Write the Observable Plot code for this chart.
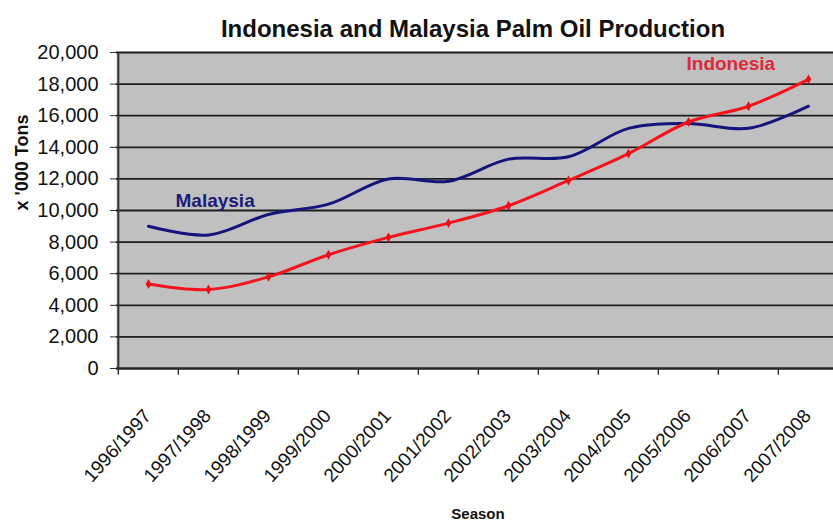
<!DOCTYPE html>
<html>
<head>
<meta charset="utf-8">
<script src="https://cdn.jsdelivr.net/npm/d3@7"></script>
<script src="https://cdn.jsdelivr.net/npm/@observablehq/plot@0.6"></script>
<style>
  html, body { margin: 0; padding: 0; background: white; overflow: hidden; }
</style>
</head>
<body>
<div id="chart"></div>
<script>
const seasons = ["1996/1997", "1997/1998", "1998/1999", "1999/2000", "2000/2001", "2001/2002",
                 "2002/2003", "2003/2004", "2004/2005", "2005/2006", "2006/2007", "2007/2008"];
const malaysia = [9000, 8450, 9750, 10400, 12000, 11850, 13250, 13400, 15200, 15500, 15200, 16600];
const indonesia = [5350, 5000, 5800, 7200, 8300, 9200, 10300, 11900, 13600, 15600, 16600, 18300];
const yTicks = [0, 2000, 4000, 6000, 8000, 10000, 12000, 14000, 16000, 18000, 20000];
const titleText = "Indonesia and Malaysia Palm Oil Production";
const yLabel = "x '000 Tons";
const xLabel = "Season";

const malData = seasons.map((s, i) => ({season: s, value: malaysia[i]}));
const indData = seasons.map((s, i) => ({season: s, value: indonesia[i]}));

const left = 116, right = 840;
const bw = (right - left) / seasons.length;
const font = "'Liberation Sans', Arial, sans-serif";

const chart = Plot.plot({
  width: 833,
  height: 528,
  marginLeft: left,
  marginRight: 0,
  marginTop: 52,
  marginBottom: 160,
  style: {fontFamily: font, background: "white", color: "#111"},
  x: {type: "band", domain: seasons, range: [left, right], padding: 0, axis: null},
  y: {domain: [0, 20000], axis: null},
  marks: [
    Plot.frame({fill: "#c0c0c0", stroke: null}),
    Plot.ruleY(yTicks, {stroke: "#1e1e1e", strokeWidth: 1.8}),
    Plot.axisY({ticks: yTicks, tickFormat: d3.format(","), tickSize: 6, tickPadding: 12,
                fontSize: 20, stroke: "#333", label: null}),
    Plot.ruleX([seasons[0]], {x: d => d, dx: -bw / 2, stroke: "#333", strokeWidth: 2}),
    Plot.ruleY([0], {stroke: "#222", strokeWidth: 2.2}),
    Plot.ruleX(seasons, {x: d => d, dx: -bw / 2, y1: 0, y2: -420, stroke: "#333", strokeWidth: 1.5}),
    Plot.line(malData, {x: "season", y: "value", stroke: "#14147c", strokeWidth: 3, curve: "catmull-rom"}),
    Plot.line(indData, {x: "season", y: "value", stroke: "#f5141e", strokeWidth: 3, curve: "catmull-rom"}),
    Plot.dot(indData, {x: "season", y: "value", symbol: "diamond", r: 3, fill: "#e8101a", stroke: null}),
    Plot.text(seasons, {x: d => d, y: 0, text: d => d, dy: 44, dx: -1, rotate: -48,
                        textAnchor: "end", lineAnchor: "middle", fontSize: 19, fill: "#111"}),
    Plot.text(["Malaysia"], {x: () => seasons[1], y: () => 10600, text: d => d, dx: -33, textAnchor: "start",
                             fontSize: 19, fontWeight: "bold", fill: "#1c1c78"}),
    Plot.text(["Indonesia"], {x: () => seasons[9], y: () => 19250, text: d => d, dx: -2, textAnchor: "start",
                              fontSize: 19, fontWeight: "bold", fill: "#e0283a"}),
    Plot.text([titleText], {frameAnchor: "top", text: d => d, dy: -33, dx: -2, fontSize: 24, fontWeight: "bold", fill: "#111"}),
    Plot.text([yLabel], {frameAnchor: "left", text: d => d, dx: -94, rotate: -90, fontSize: 18, fontWeight: "bold", fill: "#111"}),
    Plot.text([xLabel], {frameAnchor: "bottom", text: d => d, dy: 150, dx: 3, fontSize: 15, fontWeight: "bold", fill: "#111"})
  ]
});
document.getElementById("chart").appendChild(chart);
</script>
</body>
</html>
